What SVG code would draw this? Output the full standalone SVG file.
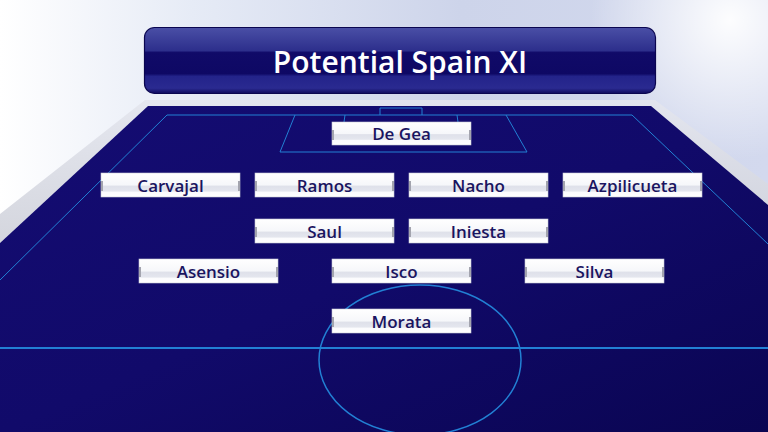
<svg xmlns="http://www.w3.org/2000/svg" width="768" height="432" viewBox="0 0 768 432">
<defs>
<linearGradient id="bg" x1="0" y1="0" x2="1" y2="0">
<stop offset="0" stop-color="#ffffff"/>
<stop offset="0.25" stop-color="#e6ebf6"/>
<stop offset="0.6" stop-color="#cdd4ea"/>
<stop offset="1" stop-color="#d3d9ee"/>
</linearGradient>
<radialGradient id="flare" cx="730" cy="20" r="140" gradientUnits="userSpaceOnUse">
<stop offset="0" stop-color="#ffffff" stop-opacity="0.95"/>
<stop offset="1" stop-color="#ffffff" stop-opacity="0"/>
</radialGradient>
<linearGradient id="pitch" x1="0" y1="0" x2="1" y2="1">
<stop offset="0" stop-color="#140c72"/>
<stop offset="0.5" stop-color="#110a6a"/>
<stop offset="1" stop-color="#0a0552"/>
</linearGradient>
<linearGradient id="bevel" x1="0" y1="0" x2="0" y2="1">
<stop offset="0" stop-color="#e4e6ee"/>
<stop offset="1" stop-color="#cfd1da"/>
</linearGradient>
<linearGradient id="title" x1="0" y1="0" x2="0" y2="1">
<stop offset="0" stop-color="#4a4fa6"/>
<stop offset="0.35" stop-color="#2d2f8c"/>
<stop offset="0.38" stop-color="#100a68"/>
<stop offset="0.7" stop-color="#0e0864"/>
<stop offset="0.74" stop-color="#23238a"/>
<stop offset="0.92" stop-color="#2a2a90"/>
<stop offset="1" stop-color="#0e0a5c"/>
</linearGradient>
<linearGradient id="card" x1="0" y1="0" x2="0" y2="1">
<stop offset="0" stop-color="#ffffff"/>
<stop offset="0.5" stop-color="#f6f7fa"/>
<stop offset="0.55" stop-color="#dfe1ea"/>
<stop offset="0.75" stop-color="#e4e6ee"/>
<stop offset="0.8" stop-color="#fbfbfd"/>
<stop offset="1" stop-color="#ffffff"/>
</linearGradient>
<style>
.card{fill:url(#card);stroke:#c9cbd6;stroke-width:0.6}
.tick{fill:#a3a4ae}
.name{font-family:"Open Sans","Liberation Sans",sans-serif;font-size:17px;font-weight:600;fill:#1a1460;text-anchor:middle}
.ln{fill:none;stroke:#2280d4;stroke-width:1}
</style>
</defs>
<rect x="0" y="0" width="768" height="432" fill="url(#bg)"/>
<rect x="0" y="0" width="768" height="200" fill="url(#flare)"/>
<polygon points="145,100 655,100 768,184 768,206 651,106 148,106 0,243 0,214" fill="url(#bevel)" opacity="0.9"/>
<polygon points="148,106 651,106 768,205 768,432 0,432 0,243" fill="url(#pitch)"/>
<g id="title-box">
<rect x="144.5" y="27.5" width="511" height="66" rx="10" fill="url(#title)" stroke="#0a0650" stroke-width="1.2"/>
<text x="400" y="73" font-family="'Open Sans','Liberation Sans',sans-serif" font-size="30" font-weight="600" fill="#ffffff" text-anchor="middle">Potential Spain XI</text>
</g>
<g id="pitch-lines">
<polyline class="ln" points="0,280 167,115 632,115 768,244"/>
<polyline class="ln" points="295,115 280,152 527,152 506,115"/>
<polyline class="ln" points="345,115 344,122"/>
<polyline class="ln" points="457,115 458,122"/>
<polyline class="ln" points="380,115 380,108 422,108 422,115"/>
<line x1="0" y1="348" x2="768" y2="348" stroke="#2280d4" stroke-width="2"/>
<ellipse cx="420" cy="360" rx="101" ry="75" fill="none" stroke="#2280d4" stroke-width="1.5"/>
</g>
<g id="players">
<g id="degea"><rect class="card" x="332" y="122" width="139" height="23"/><rect class="tick" x="332" y="130" width="2" height="10"/><rect class="tick" x="469" y="130" width="2" height="10"/><text class="name" x="401.5" y="140">De Gea</text></g>
<g id="carvajal"><rect class="card" x="101" y="173" width="139" height="24"/><rect class="tick" x="101" y="181" width="2" height="10"/><rect class="tick" x="238" y="181" width="2" height="10"/><text class="name" x="170.5" y="191.5">Carvajal</text></g>
<g id="ramos"><rect class="card" x="255" y="173" width="139" height="24"/><rect class="tick" x="255" y="181" width="2" height="10"/><rect class="tick" x="392" y="181" width="2" height="10"/><text class="name" x="324.5" y="191.5">Ramos</text></g>
<g id="nacho"><rect class="card" x="409" y="173" width="139" height="24"/><rect class="tick" x="409" y="181" width="2" height="10"/><rect class="tick" x="546" y="181" width="2" height="10"/><text class="name" x="478.5" y="191.5">Nacho</text></g>
<g id="azpilicueta"><rect class="card" x="563" y="173" width="139" height="24"/><rect class="tick" x="563" y="181" width="2" height="10"/><rect class="tick" x="700" y="181" width="2" height="10"/><text class="name" x="632.5" y="191.5">Azpilicueta</text></g>
<g id="saul"><rect class="card" x="255" y="219" width="139" height="24"/><rect class="tick" x="255" y="227" width="2" height="10"/><rect class="tick" x="392" y="227" width="2" height="10"/><text class="name" x="324.5" y="237.5">Saul</text></g>
<g id="iniesta"><rect class="card" x="409" y="219" width="139" height="24"/><rect class="tick" x="409" y="227" width="2" height="10"/><rect class="tick" x="546" y="227" width="2" height="10"/><text class="name" x="478.5" y="237.5">Iniesta</text></g>
<g id="asensio"><rect class="card" x="139" y="259" width="139" height="24"/><rect class="tick" x="139" y="267" width="2" height="10"/><rect class="tick" x="276" y="267" width="2" height="10"/><text class="name" x="208.5" y="277.5">Asensio</text></g>
<g id="isco"><rect class="card" x="332" y="259" width="139" height="24"/><rect class="tick" x="332" y="267" width="2" height="10"/><rect class="tick" x="469" y="267" width="2" height="10"/><text class="name" x="401.5" y="277.5">Isco</text></g>
<g id="silva"><rect class="card" x="525" y="259" width="139" height="24"/><rect class="tick" x="525" y="267" width="2" height="10"/><rect class="tick" x="662" y="267" width="2" height="10"/><text class="name" x="594.5" y="277.5">Silva</text></g>
<g id="morata"><rect class="card" x="332" y="309" width="139" height="24"/><rect class="tick" x="332" y="317" width="2" height="10"/><rect class="tick" x="469" y="317" width="2" height="10"/><text class="name" x="401.5" y="327.5">Morata</text></g>
</g>
</svg>
